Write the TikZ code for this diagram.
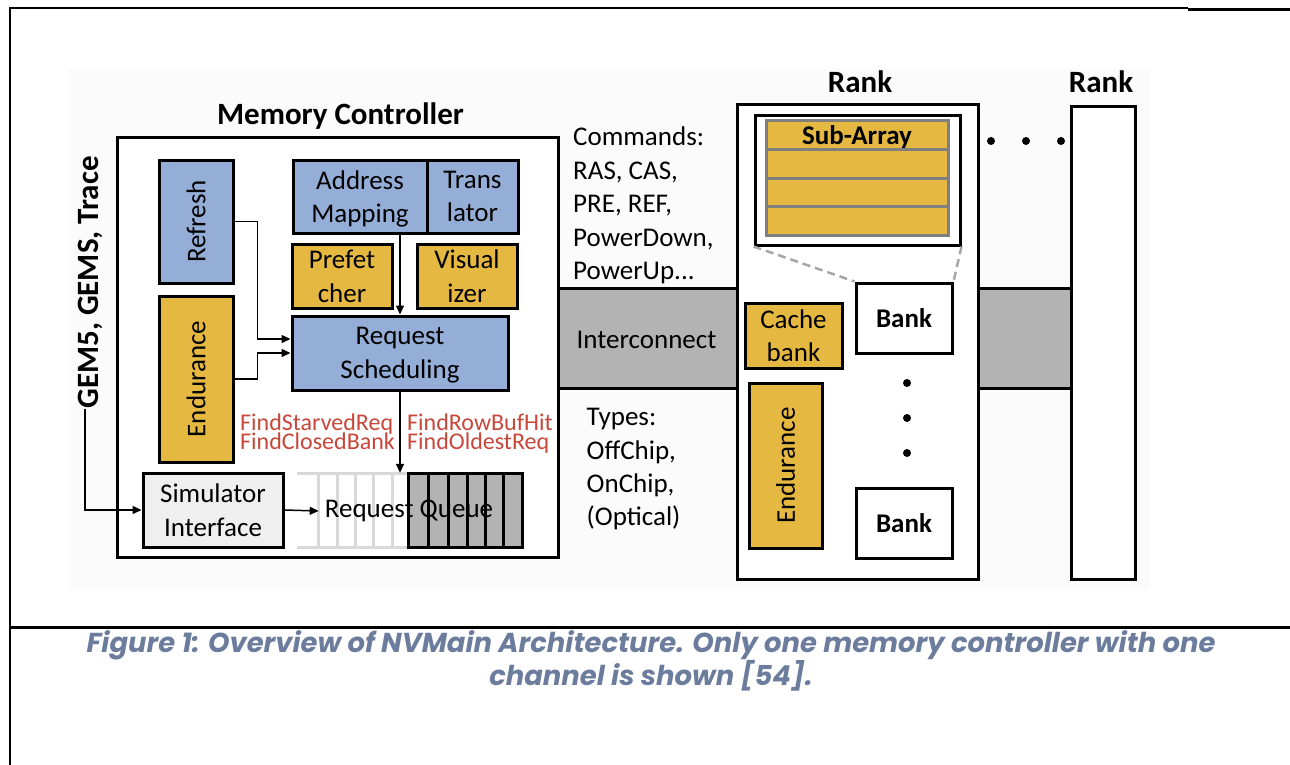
\documentclass[tikz,border=0pt]{standalone}
\usepackage{fontspec}
\setmainfont{Carlito}
\newfontfamily\capfont{Poppins}
\usetikzlibrary{arrows.meta}

\definecolor{boxblue}{HTML}{95AED8}
\definecolor{boxyellow}{HTML}{E5B941}
\definecolor{bandgray}{HTML}{B3B3B3}
\definecolor{simgray}{HTML}{EFEFEF}
\definecolor{slotgray}{HTML}{D9D9D9}
\definecolor{subgray}{HTML}{7F7F7F}
\definecolor{dashgray}{HTML}{A6A6A6}
\definecolor{findred}{HTML}{C9473A}
\definecolor{capblue}{HTML}{6B7C9D}
\definecolor{figbg}{HTML}{FBFBFB}

\begin{document}
\begin{tikzpicture}[x=1pt,y=-1pt,
  font=\fontsize{27}{33.5}\selectfont,
  blk/.style={draw=black, line width=3pt, inner sep=0pt, align=center, text depth=0pt},
  bluebox/.style={blk, fill=boxblue},
  yellowbox/.style={blk, fill=boxyellow},
  whitebox/.style={blk, fill=white},
  title/.style={font=\bfseries\fontsize{31}{36}\selectfont, inner sep=0pt},
  boldlbl/.style={font=\bfseries\fontsize{27}{33.5}\selectfont},
  txtline/.style={anchor=west, inner sep=0pt, text height=17.4pt, text depth=0pt},
  findtxt/.style={anchor=west, inner sep=0pt, text=findred, text height=15.5pt, text depth=0pt,
                  font=\fontsize{24}{19}\selectfont},
  conn/.style={line width=1.5pt, -{Triangle[length=9pt,width=8pt]}},
  zoomline/.style={draw=dashgray, line width=2.5pt, dash pattern=on 8pt off 5pt},
  subrow/.style={draw=subgray, fill=boxyellow, line width=3pt, minimum width=182pt,
                 minimum height=28.5pt, inner sep=0pt},
  dot/.style={fill=black, circle, inner sep=0pt, minimum size=8pt}
]
\useasboundingbox (0,0) rectangle (1290,765);

% page frame and figure backdrop
\fill[figbg] (68,69) rectangle (1150,590);
\draw[line width=1.5pt] (10,765) -- (10,8) -- (1188,8);
\draw[line width=2.5pt] (1188,9.5) -- (1290,9.5);
\draw[line width=3pt] (10,627) -- (1290,627);

% interconnect bands
\fill[bandgray] (558,288) rectangle (737,388);
\fill[bandgray] (978,288) rectangle (1071,388);
\draw[line width=3pt] (558,288) -- (737,288) (558,388) -- (737,388);
\draw[line width=3pt] (978,288) -- (1071,288) (978,388) -- (1071,388);
\node (ic) at (646.5,340) {Interconnect};

% memory controller
\node[whitebox, minimum width=441pt, minimum height=419pt] (mc) at (337.5,347.5) {};
\node[title] (mctitle) at (340.5,116) {Memory Controller};

\node[bluebox, rotate=90, minimum width=123pt, minimum height=74pt] (ref) at (196,221.5) {Refresh};
\node[yellowbox, rotate=90, minimum width=166pt, minimum height=74pt] (endmc) at (196,379) {Endurance};
\node[bluebox, minimum width=134pt, minimum height=73pt] (am) at (360,196.5) {Address\\Mapping};
\node[bluebox, minimum width=91pt, minimum height=73pt] (tr) at (472.5,196.5) {Trans\\lator};
\node[yellowbox, minimum width=100pt, minimum height=64pt] (pf) at (342,276) {Prefet\\cher};
\node[yellowbox, minimum width=100pt, minimum height=64pt] (vis) at (467,276) {Visual\\izer};
\node[bluebox, minimum width=216pt, minimum height=74pt] (rs) at (400,353) {Request\\Scheduling};
\node[blk, fill=simgray, minimum width=140pt, minimum height=74pt] (sim) at (213,510) {Simulator\\Interface};

% request queue: free slots and occupied slots
\node[minimum width=225pt, minimum height=74pt, inner sep=0pt] (qarea) at (409.5,510) {};
\draw[slotgray, line width=3pt] (297,473) -- (408,473) (297,547) -- (408,547);
\foreach \sx in {318,337,355,373,392}
  \draw[slotgray, line width=3pt] (\sx,473) -- (\sx,547);
\draw[fill=bandgray, line width=3pt] (408,473) rectangle (522,547);
\foreach \sx in {428,448,467,485,503}
  \draw[line width=3pt] (\sx,473) -- (\sx,547);
\node[inner sep=6pt] (queue) at (409,511) {Request Queue};

% scheduling policies
\node[findtxt] (findl1) at (240,423) {FindStarvedReq};
\node[findtxt] (findl2) at (240,442) {FindClosedBank};
\node[findtxt] (findr1) at (407,423) {FindRowBufHit};
\node[findtxt] (findr2) at (407,442) {FindOldestReq};

% connectors inside the controller
\coordinate (ax) at (400,0);
\draw[conn] (ax |- am.south) -- (ax |- rs.north);
\draw[conn] (ref.south) -- ++(23,0) |- ([yshift=14pt]rs.west);
\draw[conn] (endmc.south) -- ++(23,0) |- (rs.west);
\draw[conn] (ax |- rs.south) -- (ax |- qarea.north);
\draw[conn] (sim.east) -- (queue.west);

% front-end input
\node[title, rotate=90] (gems) at (90.5,282.5) {GEM5, GEMS, Trace};
\draw[conn] ([xshift=-5.5pt]gems.west) |- (sim.west);

% command and interconnect notes
\foreach \t/\yy [count=\i] in {{Commands:}/137,{RAS, CAS,}/171,{PRE, REF,}/204,{PowerDown,}/238,{PowerUp...}/271}
  \node[txtline] (cmd\i) at (573,\yy) {\t};
\foreach \t/\yy [count=\i] in {{Types:}/417,{OffChip,}/451,{OnChip,}/484,{(Optical)}/517}
  \node[txtline] (typ\i) at (586.5,\yy) {\t};

% first rank
\node[whitebox, minimum width=241pt, minimum height=474pt] (rank1) at (857.5,342) {};
\node[title] (rank1t) at (860,82) {Rank};
\node[whitebox, minimum width=205pt, minimum height=129pt] (sa) at (857.5,180.5) {};
\node[subrow, boldlbl, text depth=0pt] (sa1) at (857,135.25) {Sub-Array};
\node[subrow] (sa2) at (857,163.75) {};
\node[subrow] (sa3) at (857,192.25) {};
\node[subrow] (sa4) at (857,220.75) {};
\node[whitebox, boldlbl, minimum width=96pt, minimum height=70pt] (bank1) at (904,318) {Bank};
\node[whitebox, boldlbl, minimum width=96pt, minimum height=70pt] (bank2) at (904,523) {Bank};
\draw[zoomline] (sa.south west) -- (bank1.north west);
\draw[zoomline] (sa.south east) -- (bank1.north east);
\node[yellowbox, minimum width=97pt, minimum height=65pt] (cache) at (793.5,335.5) {Cache\\bank};
\node[yellowbox, rotate=90, minimum width=165pt, minimum height=73pt] (endr) at (785.5,465.5) {Endurance};
\node[dot] (vd1) at (907,383) {};
\node[dot] (vd2) at (907,418) {};
\node[dot] (vd3) at (907,453) {};

% further ranks
\node[dot] (hd1) at (991,141) {};
\node[dot] (hd2) at (1026,141) {};
\node[dot] (hd3) at (1061,141) {};
\node[whitebox, minimum width=64pt, minimum height=472pt] (rank2) at (1103,343) {};
\node[title] (rank2t) at (1101,82) {Rank};

% caption
\node[font=\capfont\bfseries\itshape\fontsize{27.4}{33}\selectfont, text=capblue, align=center] (caption) at (651,660.5)
  {Figure 1: Overview of NVMain Architecture. Only one memory controller with one\\channel is shown [54].};
\end{tikzpicture}
\end{document}
